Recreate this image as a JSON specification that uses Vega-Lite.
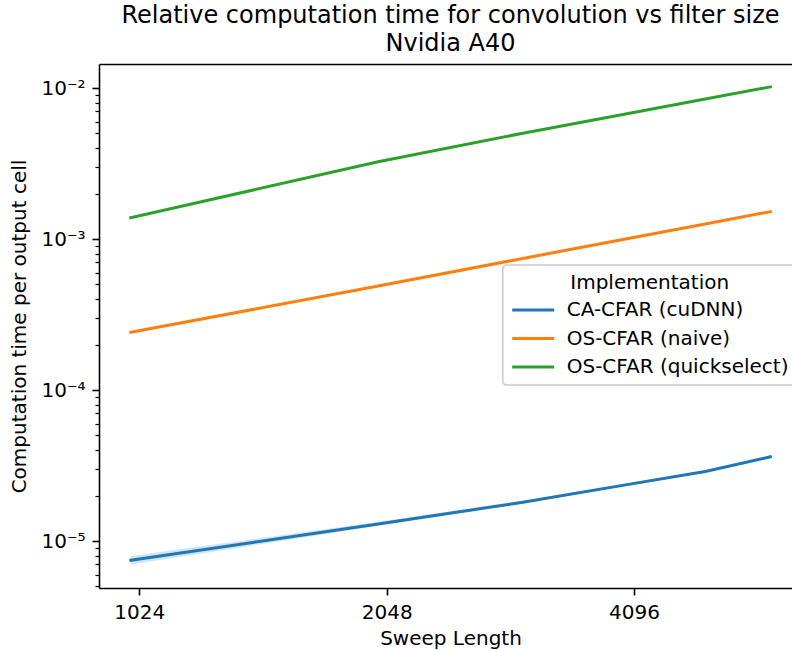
{
  "$schema": "https://vega.github.io/schema/vega-lite/v6.json",
  "width": 693,
  "height": 524,
  "autosize": {"type": "none"},
  "padding": {"left": 99, "top": 64, "right": 0, "bottom": 62},
  "background": "white",
  "config": {
    "font": "DejaVu Sans",
    "view": {"stroke": null},
    "axis": {
      "grid": false,
      "domainColor": "black",
      "domainWidth": 1.6,
      "tickColor": "black",
      "tickWidth": 1.6,
      "tickSize": 7,
      "labelPadding": 7,
      "labelFont": "DejaVu Sans",
      "labelFontSize": 20,
      "labelColor": "black",
      "labelFlush": false,
      "labelOverlap": false,
      "titleFont": "DejaVu Sans",
      "titleFontSize": 20,
      "titleFontWeight": "normal",
      "titleColor": "black"
    },
    "legend": {"strokeWidth": 1.6}
  },
  "title": {
    "text": ["Relative computation time for convolution vs filter size", "Nvidia A40"],
    "font": "DejaVu Sans",
    "fontSize": 24,
    "fontWeight": "normal",
    "color": "black",
    "anchor": "middle",
    "baseline": "bottom",
    "lineHeight": 28.5,
    "dx": 5,
    "offset": -16
  },
  "data": {
    "values": [
      {"impl": "CA-CFAR (cuDNN)", "n": 1000, "t": 7.45e-6, "lo": 7.0e-6, "hi": 7.95e-6},
      {"impl": "CA-CFAR (cuDNN)", "n": 2000, "t": 1.297e-5, "lo": 1.26e-5, "hi": 1.34e-5},
      {"impl": "CA-CFAR (cuDNN)", "n": 3000, "t": 1.807e-5, "lo": 1.77e-5, "hi": 1.85e-5},
      {"impl": "CA-CFAR (cuDNN)", "n": 4000, "t": 2.355e-5, "lo": 2.31e-5, "hi": 2.40e-5},
      {"impl": "CA-CFAR (cuDNN)", "n": 5000, "t": 2.886e-5, "lo": 2.83e-5, "hi": 2.94e-5},
      {"impl": "CA-CFAR (cuDNN)", "n": 6000, "t": 3.61e-5, "lo": 3.53e-5, "hi": 3.70e-5},
      {"impl": "OS-CFAR (naive)", "n": 1000, "t": 2.41e-4},
      {"impl": "OS-CFAR (naive)", "n": 2000, "t": 4.89e-4},
      {"impl": "OS-CFAR (naive)", "n": 3000, "t": 7.44e-4},
      {"impl": "OS-CFAR (naive)", "n": 4000, "t": 1.0e-3},
      {"impl": "OS-CFAR (naive)", "n": 5000, "t": 1.257e-3},
      {"impl": "OS-CFAR (naive)", "n": 6000, "t": 1.518e-3},
      {"impl": "OS-CFAR (quickselect)", "n": 1000, "t": 1.384e-3},
      {"impl": "OS-CFAR (quickselect)", "n": 2000, "t": 3.25e-3},
      {"impl": "OS-CFAR (quickselect)", "n": 3000, "t": 5.02e-3},
      {"impl": "OS-CFAR (quickselect)", "n": 4000, "t": 6.73e-3},
      {"impl": "OS-CFAR (quickselect)", "n": 5000, "t": 8.46e-3},
      {"impl": "OS-CFAR (quickselect)", "n": 6000, "t": 1.017e-2}
    ]
  },
  "layer": [
    {
      "transform": [{"filter": "isValid(datum.lo)"}],
      "mark": {"type": "area", "color": "#1f77b4", "opacity": 0.2},
      "encoding": {
        "x": {
          "field": "n",
          "type": "quantitative",
          "scale": {"type": "log", "base": 2, "domain": [914.7, 6376], "nice": false},
          "axis": {
            "values": [1024, 2048, 4096],
            "format": "d",
            "title": "Sweep Length",
            "titleX": 351.5,
            "titleY": 56.5,
            "titleAlign": "center",
            "titleBaseline": "alphabetic"
          }
        },
        "y": {
          "field": "lo",
          "type": "quantitative",
          "scale": {"type": "log", "domain": [4.886e-6, 1.442e-2], "nice": false},
          "axis": {
            "values": [1e-5, 1e-4, 1e-3, 1e-2],
            "labelExpr": "'10' + (datum.value < 5e-5 ? '⁻⁵' : datum.value < 5e-4 ? '⁻⁴' : datum.value < 5e-3 ? '⁻³' : '⁻²')",
            "title": "Computation time per output cell",
            "titleX": -80,
            "titleBaseline": "middle"
          }
        },
        "y2": {"field": "hi"}
      }
    },
    {
      "mark": {"type": "line", "strokeWidth": 3, "strokeCap": "square", "strokeJoin": "round"},
      "encoding": {
        "x": {
          "field": "n",
          "type": "quantitative",
          "axis": {"orient": "top", "ticks": false, "labels": false, "title": null, "domain": true}
        },
        "y": {
          "field": "t",
          "type": "quantitative",
          "axis": {
            "orient": "left",
            "values": [5e-6, 6e-6, 7e-6, 8e-6, 9e-6, 2e-5, 3e-5, 4e-5, 5e-5, 6e-5, 7e-5, 8e-5, 9e-5, 2e-4, 3e-4, 4e-4, 5e-4, 6e-4, 7e-4, 8e-4, 9e-4, 2e-3, 3e-3, 4e-3, 5e-3, 6e-3, 7e-3, 8e-3, 9e-3],
            "labels": false,
            "title": null,
            "domain": false,
            "tickSize": 4,
            "tickWidth": 1.2
          }
        },
        "color": {
          "field": "impl",
          "type": "nominal",
          "scale": {
            "domain": ["CA-CFAR (cuDNN)", "OS-CFAR (naive)", "OS-CFAR (quickselect)"],
            "range": ["#1f77b4", "#ff7f0e", "#2ca02c"]
          },
          "legend": {
            "title": "Implementation",
            "orient": "none",
            "legendX": 403.7,
            "legendY": 201,
            "symbolType": "M-1,0H3",
            "symbolSize": 441,
            "symbolStrokeWidth": 3,
            "labelFont": "DejaVu Sans",
            "labelFontSize": 20,
            "labelColor": "black",
            "labelLimit": 400,
            "labelOffset": 32,
            "titleFont": "DejaVu Sans",
            "titleFontSize": 20,
            "titleFontWeight": "normal",
            "titleColor": "black",
            "titleAnchor": "middle",
            "titlePadding": 5,
            "rowPadding": 6.5,
            "padding": 8,
            "strokeColor": "#cccccc",
            "fillColor": "rgba(255,255,255,0.8)",
            "cornerRadius": 4
          }
        }
      }
    }
  ],
  "resolve": {"axis": {"x": "independent", "y": "independent"}}
}
